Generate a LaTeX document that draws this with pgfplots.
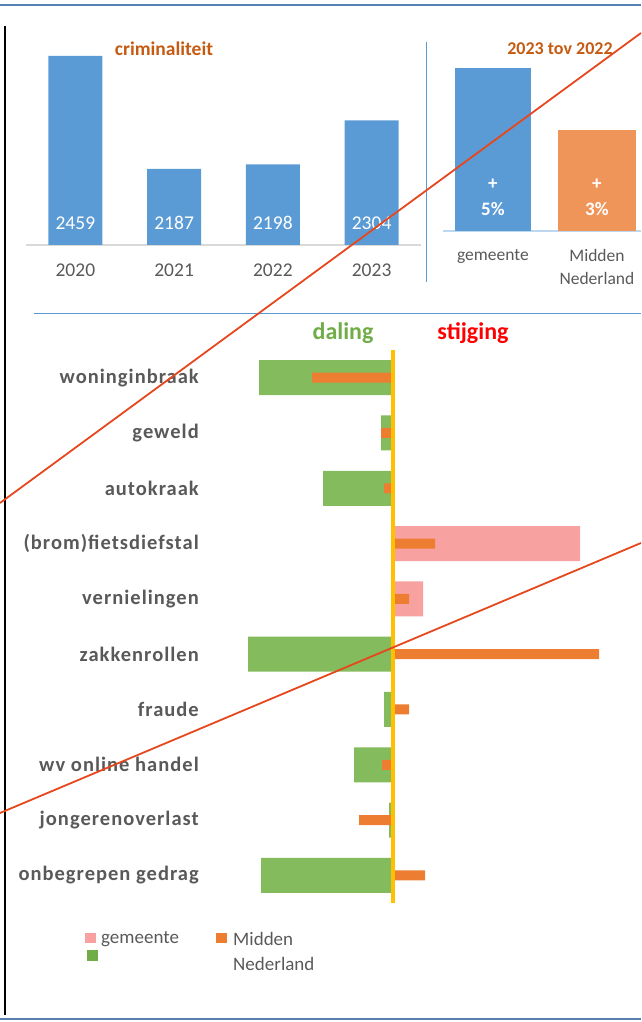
\documentclass[border=0pt]{standalone}
\usepackage{fontspec}
\setmainfont{Carlito}
\newfontfamily\catfont[LetterSpace=5]{Carlito}
\usepackage{pgfplots}
\pgfplotsset{compat=1.18}
\definecolor{cblue}{HTML}{5B9BD5}
\definecolor{corangetop}{HTML}{F0955A}
\definecolor{corange}{HTML}{ED7D31}
\definecolor{cgreen}{HTML}{84BB5C}
\definecolor{cgreenleg}{HTML}{70AD47}
\definecolor{cpink}{HTML}{F8A1A1}
\definecolor{cyellow}{HTML}{FFC000}
\definecolor{cbrown}{HTML}{C55A11}
\definecolor{cgray}{HTML}{595959}
\definecolor{cred}{HTML}{E6471C}
\definecolor{cborder}{HTML}{5580B0}
\definecolor{clightblue}{HTML}{BDD7EE}
\definecolor{cstijg}{HTML}{FF0000}
\definecolor{cdaling}{HTML}{70AD47}
\begin{document}
\begin{tikzpicture}
% ---------- criminaliteit per year ----------
\begin{axis}[at={(26pt,777pt)}, anchor=south west, scale only axis,
  width=395pt, height=205pt,
  xmin=-0.5, xmax=3.5, ymin=2004, ymax=2497.5, clip=false,
  axis x line*=bottom, axis y line=none,
  x axis line style={draw=black!15, line width=1.2pt, -},
  xtick={0,1,2,3}, xticklabels={2020,2021,2022,2023}, major tick length=0pt,
  xticklabel style={anchor=base, yshift=-32pt, inner sep=0pt, text=cgray,
    font=\fontsize{19.5}{20}\selectfont},
  ytick=\empty]
\addplot[ybar, bar shift=0pt, bar width=54pt, fill=cblue, draw=none]
  coordinates {(0,2459) (1,2187) (2,2198) (3,2304)};
\addplot[only marks, mark=*, mark size=0pt, mark options={draw=none},
  point meta=explicit symbolic, nodes near coords,
  every node near coord/.append style={anchor=center, text=white,
    font=\fontsize{19.5}{20}\selectfont}]
  table[meta=lab] {
x y lab
0 2057 2459
1 2057 2187
2 2057 2198
3 2057 2304
};
\end{axis}
% ---------- 2023 tov 2022 ----------
\begin{axis}[at={(443pt,791pt)}, anchor=south west, scale only axis,
  width=197.6pt, height=191pt,
  xmin=-0.48, xmax=1.42, ymin=0, ymax=5.86, clip=false,
  axis x line*=bottom, axis y line=none,
  x axis line style={draw=clightblue, line width=1.5pt, -},
  xtick={0,1}, xticklabels={gemeente,Midden\\Nederland}, major tick length=0pt,
  xticklabel style={align=center, anchor=north, yshift=-18.5pt, inner sep=0pt,
    text=cgray, font=\fontsize{17.5}{23}\selectfont},
  ytick=\empty]
\addplot[ybar, bar shift=0pt, bar width=76pt, fill=cblue, draw=none] coordinates {(0,5)};
\addplot[ybar, bar shift=0pt, bar width=78pt, fill=corangetop, draw=none] coordinates {(1,3.1)};
\addplot[only marks, mark=*, mark size=0pt, mark options={draw=none},
  point meta=explicit symbolic, nodes near coords={+\\\pgfplotspointmeta\%},
  every node near coord/.append style={anchor=center, align=center, text=white,
    font=\bfseries\fontsize{19}{26}\selectfont}]
  table[meta=lab] {
x y lab
0 1.04 5
1 1.04 3
};
\end{axis}
% ---------- categories ----------
\begin{axis}[at={(205pt,119pt)}, anchor=south west, scale only axis,
  width=436pt, height=553pt,
  xmin=-188, xmax=248, ymin=-0.5, ymax=9.5, y dir=reverse, clip=false,
  axis lines=left, axis line style={draw=none},
  xtick=\empty, ytick={0,...,9}, major tick length=0pt,
  yticklabels={woninginbraak\ ,geweld,autokraak,(brom)fietsdiefstal,vernielingen,zakkenrollen,fraude\ ,wv online handel,jongerenoverlast,onbegrepen gedrag},
  yticklabel style={anchor=east, inner sep=0pt, xshift=-6pt, text=cgray,
    font=\catfont\bfseries\fontsize{20.5}{21}\selectfont}]
% gemeente, decrease (green)
\addplot[xbar, bar shift=0pt, bar width=35pt, fill=cgreen, draw=none] table {
x y
-134 0
-12 1
-70 2
0 3
0 4
-145 5
-9 6
-39 7
-4 8
-132 9
};
% gemeente, increase (pink)
\addplot[xbar, bar shift=0pt, bar width=35pt, fill=cpink, draw=none] table {
x y
0 0
0 1
0 2
187 3
30 4
0 5
0 6
0 7
0 8
0 9
};
% Midden Nederland
\addplot[xbar, bar shift=0pt, bar width=10pt, fill=corange, draw=none] table {
x y
-81 0
-12 1
-9 2
42 3
16 4
206 5
16 6
-11 7
-34 8
32 9
};
\addplot[cyellow, line width=3.5pt] coordinates {(0,-0.5) (0,9.5)};
\end{axis}
% ---------- frame, titles, legend, overlay ----------
\begin{axis}[at={(0pt,0pt)}, anchor=south west, scale only axis,
  width=641pt, height=1022pt, xmin=0, xmax=641, ymin=0, ymax=1022,
  hide axis, clip=false]
\addplot[cborder, line width=2pt] coordinates {(0,1017) (641,1017)};
\addplot[cborder, line width=2pt] coordinates {(0,3) (641,3)};
\addplot[black, line width=1.8pt] coordinates {(5,996) (5,7)};
\addplot[cblue, line width=0.8pt] coordinates {(426,980) (426,740)};
\addplot[cblue, line width=0.8pt] coordinates {(34,709) (641,709)};
\node[text=cbrown, font=\bfseries\fontsize{19.5}{19.5}\selectfont] at (axis cs:164,973) {criminaliteit};
\node[text=cbrown, font=\bfseries\fontsize{18}{18}\selectfont] at (axis cs:560,973) {2023 tov 2022};
\node[text=cdaling, font=\bfseries\fontsize{24}{24}\selectfont] at (axis cs:343,689) {daling};
\node[text=cstijg, font=\bfseries\fontsize{24}{24}\selectfont] at (axis cs:473,689) {stijging};
% legend
\node[fill=cpink, minimum width=11pt, minimum height=10pt, inner sep=0pt] at (axis cs:90,84) {};
\node[fill=cgreenleg, minimum width=11pt, minimum height=11pt, inner sep=0pt] at (axis cs:92,66) {};
\node[fill=corange, minimum width=11pt, minimum height=10pt, inner sep=0pt] at (axis cs:221,84) {};
\node[anchor=west, inner sep=0pt, text=cgray, font=\fontsize{19}{19}\selectfont] at (axis cs:101,83) {gemeente};
\node[anchor=west, inner sep=0pt, text=cgray, font=\fontsize{19}{19}\selectfont] at (axis cs:233,83) {Midden};
\node[anchor=west, inner sep=0pt, text=cgray, font=\fontsize{19}{19}\selectfont] at (axis cs:233,58) {Nederland};
% red overlay lines
\addplot[cred, line width=1.8pt] coordinates {(0,519) (641,989)};
\addplot[cred, line width=1.8pt] coordinates {(0,209) (641,479)};
\end{axis}
\pgfresetboundingbox
\path[use as bounding box] (0,0) rectangle (641pt,1022pt);
\end{tikzpicture}
\end{document}
